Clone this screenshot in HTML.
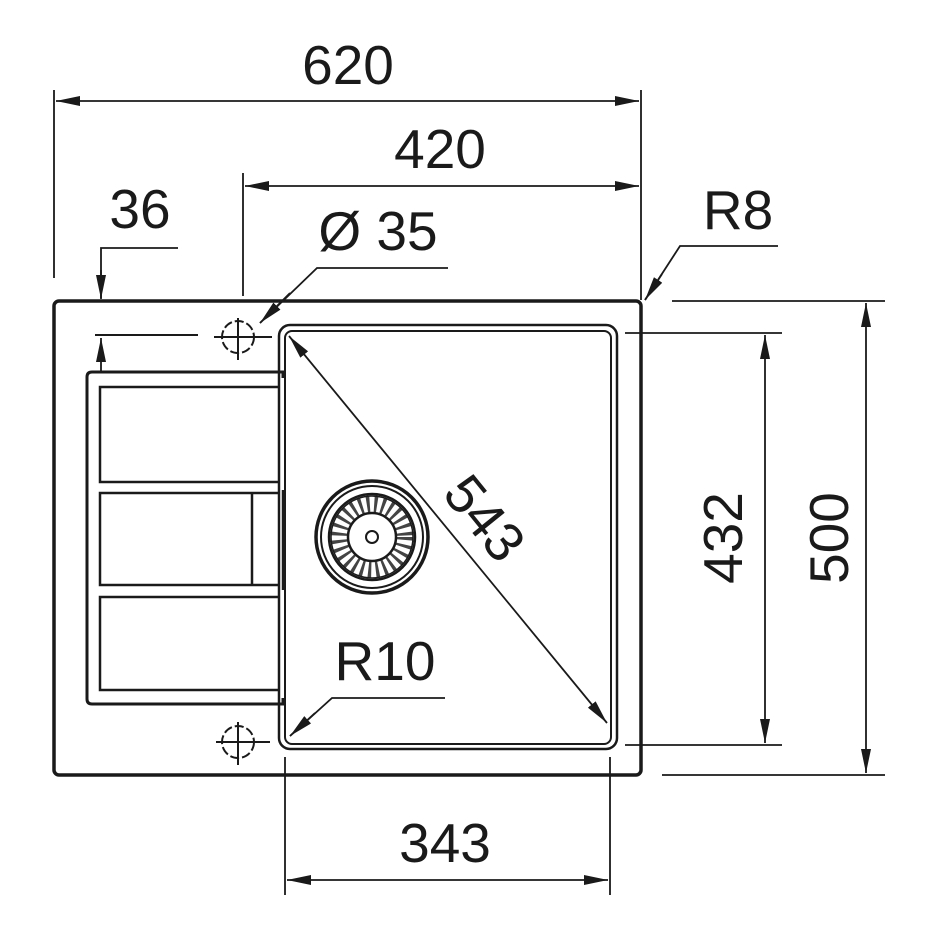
<!DOCTYPE html>
<html><head><meta charset="utf-8"><style>html,body{margin:0;padding:0;background:#fff}svg{display:block}</style></head>
<body>
<svg width="940" height="940" viewBox="0 0 940 940" xmlns="http://www.w3.org/2000/svg" font-family="Liberation Sans, Arial, sans-serif" font-size="55" fill="#1a1a1a">
<defs>
<marker id="a" viewBox="0 0 24 10" refX="24" refY="5" markerWidth="24" markerHeight="10" markerUnits="userSpaceOnUse" orient="auto-start-reverse"><path d="M0,0 L24,5 L0,10 z" fill="#1a1a1a"/></marker>
</defs>
<g stroke="#1a1a1a" fill="none">
<rect x="54" y="301" width="587" height="474" rx="5" stroke-width="3.5"/>
<rect x="279" y="325" width="338" height="424" rx="11" stroke-width="2.5"/>
<rect x="285" y="331" width="326" height="413" rx="7" stroke-width="2"/>
<path d="M283,378 L283,372 L92,372 Q87,372 87,377 L87,699 Q87,704 92,704 L283,704 L283,698" stroke-width="3"/>
<path d="M280,387 L100,387 L100,482 L280,482 M280,493 L100,493 L100,585 L280,585 M280,597 L100,597 L100,690 L280,690" stroke-width="2.5"/>
<path d="M252,493 L252,585 M283,490 L283,590" stroke-width="2.5"/>
<circle cx="372" cy="537" r="56" stroke-width="3.5"/>
<circle cx="372" cy="537" r="51" stroke-width="2"/>
<circle cx="372" cy="537" r="43" stroke-width="2.5"/>
<circle cx="372" cy="537" r="33" stroke-width="16" stroke="#444" stroke-dasharray="3 4.5"/>
<circle cx="372" cy="537" r="41" stroke-width="1.5"/>
<circle cx="372" cy="537" r="24" stroke-width="2.5"/>
<circle cx="372" cy="537" r="6" stroke-width="2"/>
<g stroke-width="2">
<circle cx="238" cy="337" r="16" stroke-dasharray="9 3"/>
<path d="M214,337 H272 M238,318 V360 M95,335 H198"/>
<circle cx="238" cy="742" r="16" stroke-dasharray="9 3"/>
<path d="M216,742 H270 M238,722 V765"/>
</g>
<g stroke-width="1.8">
<path d="M54,90 V278 M641,90 V300 M243,173 V296"/>
<line x1="56" y1="101" x2="639" y2="101" marker-start="url(#a)" marker-end="url(#a)"/>
<line x1="245" y1="186" x2="639" y2="186" marker-start="url(#a)" marker-end="url(#a)"/>
<path d="M178,248 H101 V298"/>
<line x1="101" y1="270" x2="101" y2="299" marker-end="url(#a)"/>
<line x1="101" y1="372" x2="101" y2="338" marker-end="url(#a)"/>
<path d="M448,268 H317 L260,323"/>
<line x1="290" y1="293" x2="260" y2="323" marker-end="url(#a)"/>
<path d="M778,246 H680 L645,300"/>
<line x1="662" y1="274" x2="645" y2="300" marker-end="url(#a)"/>
<path d="M625,333 H782 M625,745 H782 M672,301 H885 M662,775 H885"/>
<line x1="765" y1="335" x2="765" y2="743" marker-start="url(#a)" marker-end="url(#a)"/>
<line x1="866" y1="303" x2="866" y2="773" marker-start="url(#a)" marker-end="url(#a)"/>
<path d="M285,757 V895 M610,757 V895"/>
<line x1="287" y1="880" x2="608" y2="880" marker-start="url(#a)" marker-end="url(#a)"/>
<line x1="289" y1="336" x2="607" y2="723" marker-start="url(#a)" marker-end="url(#a)"/>
<path d="M445,698 H332 L290,736"/>
<line x1="315" y1="713" x2="290" y2="736" marker-end="url(#a)"/>
</g>
</g>
<g text-anchor="middle" stroke="none">
<text x="348" y="84">620</text>
<text x="440" y="168">420</text>
<text x="140" y="228">36</text>
<text x="378" y="250">Ø 35</text>
<text x="738" y="229">R8</text>
<text x="385" y="680">R10</text>
<text x="445" y="862">343</text>
<text transform="translate(742,538) rotate(-90)">432</text>
<text transform="translate(848,538) rotate(-90)">500</text>
<text transform="translate(470,530) rotate(51)">543</text>
</g>
</svg>
</body></html>
